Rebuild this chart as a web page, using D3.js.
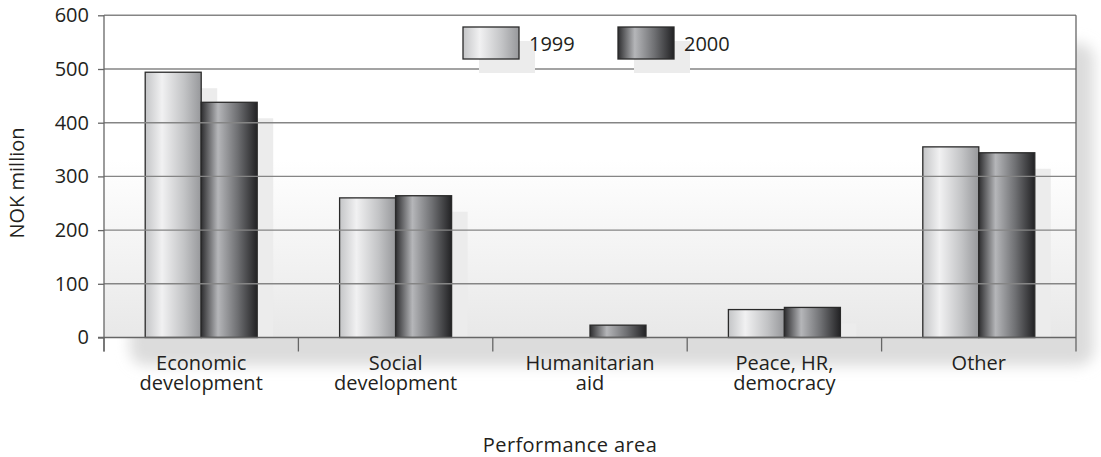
<!DOCTYPE html>
<html>
<head>
<meta charset="utf-8">
<script src="https://cdn.jsdelivr.net/npm/d3@7"></script>
<style>
  body { margin: 0; background: #fff; }
  text { font-family: "Open Sans", "Noto Sans", sans-serif; fill: #231f20; }
</style>
</head>
<body>
<script>
// chart values
var categories = ["Economic\ndevelopment", "Social\ndevelopment", "Humanitarian\naid", "Peace, HR,\ndemocracy", "Other"];
var years = ["1999", "2000"];
var values1999 = [494, 260, 0, 52, 355];
var values2000 = [438, 264, 23, 56, 344];
var yTicks = [0, 100, 200, 300, 400, 500, 600];

var W = 1101, H = 457;
var pLeft = 104, pRight = 1076, pTop = 15.3, pBottom = 337.5;
var fontPx = "20px";

var svg = d3.select("body").append("svg")
  .attr("width", W)
  .attr("height", H);

var defs = svg.append("defs");

// soft panel shadow behind the plot
var blur = defs.append("filter").attr("id", "soft")
  .attr("x", "-5%").attr("y", "-10%").attr("width", "110%").attr("height", "120%");
blur.append("feGaussianBlur").attr("stdDeviation", 7);

var bg = defs.append("linearGradient").attr("id", "plotbg")
  .attr("x1", 0).attr("y1", 0).attr("x2", 0).attr("y2", 1);
bg.append("stop").attr("offset", "0%").attr("stop-color", "#ffffff");
bg.append("stop").attr("offset", "45%").attr("stop-color", "#ffffff");
bg.append("stop").attr("offset", "100%").attr("stop-color", "#e8e8e8");

// the two bar fills, a cylinder look
var g99 = defs.append("linearGradient").attr("id", "grad1999");
g99.append("stop").attr("offset", "0%").attr("stop-color", "#c4c5c7");
g99.append("stop").attr("offset", "30%").attr("stop-color", "#f1f1f2");
g99.append("stop").attr("offset", "70%").attr("stop-color", "#c2c3c5");
g99.append("stop").attr("offset", "100%").attr("stop-color", "#97989b");

var g00 = defs.append("linearGradient").attr("id", "grad2000");
g00.append("stop").attr("offset", "0%").attr("stop-color", "#2e2e30");
g00.append("stop").attr("offset", "30%").attr("stop-color", "#b5b6b9");
g00.append("stop").attr("offset", "65%").attr("stop-color", "#6f7073");
g00.append("stop").attr("offset", "100%").attr("stop-color", "#222224");

var fills = {"1999": "url(#grad1999)", "2000": "url(#grad2000)"};

var x0 = d3.scaleBand().domain(categories).range([pLeft, pRight]).padding(0);
var groupW = 112;
var x1 = d3.scaleBand().domain(years).range([0, groupW]).padding(0);
var y = d3.scaleLinear().domain([0, 600]).range([pBottom, pTop]);

var data = categories.map(function(c, i){
  return {cat: c, vals: [{year: "1999", v: values1999[i]}, {year: "2000", v: values2000[i]}]};
});

// panel shadow
svg.append("rect")
  .attr("x", pLeft + 26)
  .attr("y", pTop + 28)
  .attr("width", pRight - pLeft - 8)
  .attr("height", pBottom - pTop)
  .attr("rx", 16)
  .attr("fill", "#dcdcdc")
  .attr("filter", "url(#soft)");

// plot background
svg.append("rect")
  .attr("x", pLeft).attr("y", pTop)
  .attr("width", pRight - pLeft).attr("height", pBottom - pTop)
  .attr("fill", "url(#plotbg)");

var plot = svg.append("g");
var off = (x0.bandwidth() - groupW) / 2;
var groups = plot.selectAll("g.cat").data(data).enter().append("g")
  .attr("class", "cat")
  .attr("transform", function(d){ return "translate(" + (x0(d.cat) + off) + ",0)"; });

// bar shadows
groups.selectAll("rect.sh").data(function(d){ return d.vals.filter(function(e){ return e.v > 0; }); })
  .enter().append("rect")
  .attr("class", "sh")
  .attr("x", function(d){ return x1(d.year) + 16; })
  .attr("y", function(d){ return Math.min(y(d.v) + 16, pBottom); })
  .attr("width", x1.bandwidth())
  .attr("height", function(d){ return Math.max(pBottom - y(d.v) - 16, 0); })
  .attr("fill", "#ececec");

// gridlines
svg.append("g").selectAll("line").data(yTicks.filter(function(t){ return t > 0; }))
  .enter().append("line")
  .attr("x1", pLeft).attr("x2", pRight)
  .attr("y1", function(d){ return y(d); })
  .attr("y2", function(d){ return y(d); })
  .attr("stroke", "#858585")
  .attr("stroke-width", 1.4);

// bars
groups.selectAll("rect.bar").data(function(d){ return d.vals.filter(function(e){ return e.v > 0; }); })
  .enter().append("rect")
  .attr("class", "bar")
  .attr("x", function(d){ return x1(d.year); })
  .attr("y", function(d){ return y(d.v); })
  .attr("width", x1.bandwidth())
  .attr("height", function(d){ return pBottom - y(d.v); })
  .attr("fill", function(d){ return fills[d.year]; })
  .attr("stroke", "#2a2a2a")
  .attr("stroke-width", 1.3);

// y axis
var yAxis = d3.axisLeft(y).tickValues(yTicks).tickSize(6).tickPadding(9);
var ya = svg.append("g").attr("transform", "translate(" + pLeft + ",0)").call(yAxis);
ya.select(".domain").remove();
ya.selectAll(".tick line").attr("stroke", "#666").attr("stroke-width", 1.3);
ya.selectAll(".tick text").style("font-size", fontPx).attr("fill", "#231f20")
  .style("font-family", "'Open Sans', 'Noto Sans', sans-serif");

// frame: left, axis baseline
svg.append("line").attr("x1", pLeft).attr("x2", pLeft).attr("y1", pTop).attr("y2", pBottom + 14)
  .attr("stroke", "#666").attr("stroke-width", 1.3);
svg.append("line").attr("x1", pLeft - 6).attr("x2", pRight).attr("y1", pBottom).attr("y2", pBottom)
  .attr("stroke", "#666").attr("stroke-width", 1.3);

// category separators (the last one is also the right border)
var bounds = categories.map(function(c){ return x0(c); }).concat([pRight]);
svg.append("g").selectAll("line").data(bounds).enter().append("line")
  .attr("x1", function(d){ return d; }).attr("x2", function(d){ return d; })
  .attr("y1", function(d){ return d === pRight ? pTop : pBottom; })
  .attr("y2", pBottom + 14)
  .attr("stroke", "#666").attr("stroke-width", 1.3);

// category labels
var labs = svg.append("g").selectAll("text").data(categories).enter().append("text")
  .attr("x", function(d){ return x0(d) + x0.bandwidth() / 2; })
  .attr("y", 370)
  .attr("text-anchor", "middle")
  .style("font-size", fontPx);
labs.each(function(d){
  var t = d3.select(this);
  d.split("\n").forEach(function(line, i){
    t.append("tspan").attr("x", t.attr("x")).attr("dy", i === 0 ? 0 : 20).text(line);
  });
});

// axis titles
svg.append("text")
  .attr("transform", "translate(24,183) rotate(-90)")
  .attr("text-anchor", "middle")
  .style("font-size", fontPx)
  .text("NOK million");

svg.append("text")
  .attr("x", 570).attr("y", 452)
  .attr("text-anchor", "middle")
  .style("font-size", fontPx)
  .style("letter-spacing", "0.4px")
  .text("Performance area");

// legend
var legX = [463, 618];
var leg = svg.append("g").selectAll("g").data(years).enter().append("g")
  .attr("transform", function(d, i){ return "translate(" + legX[i] + ",27)"; });
leg.append("rect").attr("x", 16).attr("y", 14).attr("width", 56).attr("height", 32).attr("fill", "#ececec");
leg.append("rect").attr("width", 56).attr("height", 32)
  .attr("fill", function(d){ return fills[d]; })
  .attr("stroke", "#2a2a2a").attr("stroke-width", 1.3);
leg.append("text").attr("x", 66).attr("y", 24).style("font-size", fontPx).text(function(d){ return d; });
</script>
</body>
</html>
